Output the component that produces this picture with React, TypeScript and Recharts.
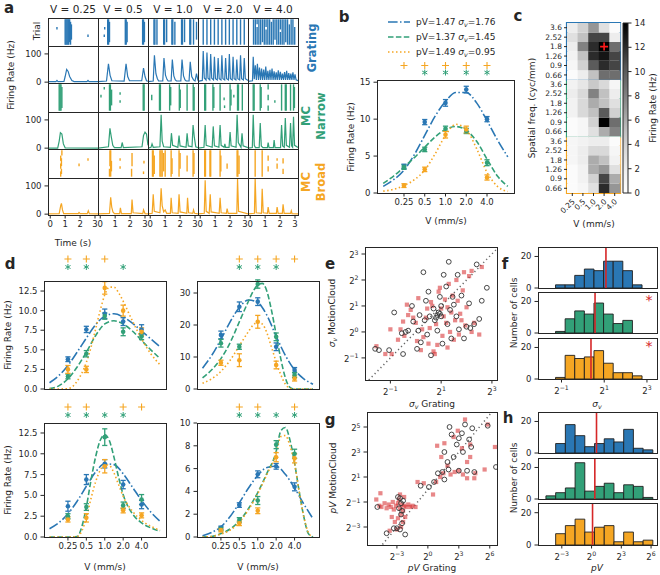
import React from 'react';
import {
  ComposedChart, BarChart, Bar, Cell, Line, Scatter, XAxis, YAxis, ErrorBar,
  ReferenceArea, ReferenceLine, ReferenceDot,
} from 'recharts';

const FONT = '"DejaVu Sans", Verdana, sans-serif';
const INK = '#262626';
const BLUE = '#2a77b4';
const GREEN = '#32a078';
const ORANGE = '#f5a623';
const RED = '#d62728';

// ---------------- panel a data ----------------
const aSpeedLabels = ['0.25', '0.5', '1.0', '2.0', '4.0'];
const aTimeTicks = [0, 1, 2, 3];
const aRateTicks = [0, 100];
// raster bands: [time (s), first trial, last trial]
const rasterGrating = [
  [[0.45, 6, 7], [1.0, 0, 10], [1.06, 0, 10], [1.12, 0, 10], [1.18, 0, 10], [1.24, 0, 10], [1.3, 1, 10], [1.36, 0, 9], [1.42, 2, 8], [2.53, 3, 4]],
  [[0.27, 3, 4], [0.3, 6, 7], [0.5, 0, 10], [0.56, 0, 10], [0.62, 1, 9], [1.68, 0, 10], [1.74, 0, 10], [1.8, 1, 9], [2.84, 0, 10], [2.9, 0, 10], [2.96, 1, 9]],
  [[0.25, 0, 10], [0.31, 0, 10], [0.45, 0, 10], [0.9, 0, 10], [0.96, 0, 10], [1.1, 1, 10], [1.45, 0, 10], [1.51, 0, 10], [1.65, 0, 9], [2.1, 0, 10], [2.16, 0, 10], [2.3, 1, 10], [2.65, 0, 10], [2.71, 0, 10], [2.9, 0, 10], [3.1, 2, 9]],
  [[0.2, 0, 10], [0.45, 0, 10], [0.7, 0, 10], [0.95, 0, 10], [1.2, 0, 10], [1.45, 0, 10], [1.7, 0, 10], [1.95, 0, 10], [2.2, 0, 10], [2.45, 0, 10], [2.7, 0, 10], [2.95, 0, 10]],
  [[0.22, 0, 10], [0.34, 0, 10], [0.46, 0, 7], [0.46, 8, 10], [0.58, 0, 10], [0.7, 0, 10], [0.82, 1, 10], [0.94, 0, 10], [1.06, 0, 6], [1.06, 7, 10], [1.18, 0, 10], [1.3, 0, 10], [1.42, 0, 9], [1.54, 0, 10], [1.66, 2, 10], [1.78, 0, 10], [1.9, 0, 10], [2.02, 0, 5], [2.02, 6, 10], [2.14, 0, 10], [2.26, 0, 10], [2.38, 1, 10], [2.5, 0, 10], [2.62, 0, 8], [2.74, 0, 10], [2.86, 0, 10], [2.98, 0, 7]],
];
const rasterNarrow = [
  [[0.6, 0, 10], [0.66, 0, 10], [0.72, 0, 10], [0.78, 1, 9]],
  [[0.05, 5, 6], [0.27, 8, 9], [0.62, 0, 10], [0.68, 0, 10], [0.76, 2, 8], [1.33, 3, 4], [1.33, 6, 7], [2.88, 0, 10], [2.94, 0, 10]],
  [[0.1, 4, 6], [0.62, 0, 10], [0.68, 0, 10], [1.3, 0, 10], [1.37, 2, 9], [1.95, 0, 10], [2.01, 1, 8], [2.47, 0, 10], [2.88, 0, 10], [2.94, 0, 9]],
  [[0.3, 0, 10], [0.36, 0, 10], [0.85, 0, 10], [0.91, 1, 9], [1.33, 0, 10], [1.6, 4, 5], [1.63, 1, 2], [2.0, 0, 10], [2.06, 2, 8], [2.25, 5, 6], [2.5, 0, 10], [2.56, 0, 10], [2.82, 0, 10]],
  [[0.2, 0, 10], [0.26, 0, 10], [0.67, 0, 10], [0.73, 1, 9], [1.2, 0, 2], [1.2, 4, 6], [1.2, 8, 10], [1.65, 3, 4], [2.1, 0, 10], [2.35, 0, 10], [2.41, 0, 10], [2.7, 0, 10], [2.9, 0, 10], [2.96, 1, 9]],
];
const rasterBroad = [
  [[0.7, 0, 2], [0.7, 3, 5], [0.7, 6, 8], [0.75, 1, 3], [0.75, 4, 7], [0.78, 8, 10], [1.93, 4, 5], [2.53, 6, 7]],
  [[0.62, 0, 3], [0.65, 4, 10], [0.7, 0, 10], [0.75, 2, 6], [1.33, 3, 4], [1.33, 6, 7], [2.1, 0, 3], [2.13, 4, 9], [2.9, 1, 2], [2.93, 5, 6]],
  [[0.15, 0, 10], [0.2, 0, 10], [0.27, 1, 8], [0.65, 0, 10], [0.72, 0, 10], [0.8, 0, 10], [0.9, 2, 9], [1.0, 0, 10], [1.4, 0, 10], [1.46, 1, 7], [1.93, 0, 10], [2.0, 3, 9], [2.47, 2, 8], [2.87, 0, 10], [2.93, 1, 9]],
  [[0.3, 0, 10], [0.35, 0, 10], [0.65, 0, 10], [0.7, 0, 10], [1.33, 0, 10], [1.38, 2, 8], [1.8, 3, 5], [2.47, 0, 10], [2.52, 0, 10], [2.6, 1, 8]],
  [[0.33, 0, 10], [0.8, 0, 10], [1.2, 2, 4], [1.2, 6, 8], [1.8, 3, 5], [1.8, 6, 7], [2.2, 1, 3], [2.2, 5, 7]],
];
// PSTH: [time (s), rate (Hz)]
const psthGrating = [
  [[-0.15, 2], [0.38, 2], [0.45, 6], [0.52, 2], [0.92, 3], [1.0, 20], [1.1, 45], [1.2, 38], [1.3, 20], [1.45, 6], [1.6, 2], [2.46, 2], [2.53, 6], [2.6, 2], [3.2, 2]],
  [[-0.15, 2], [0.42, 4], [0.55, 65], [0.66, 24], [0.78, 5], [1.6, 4], [1.73, 65], [1.84, 20], [1.96, 5], [2.78, 5], [2.9, 50], [3.0, 20], [3.1, 5], [3.2, 3]],
  [[-0.15, 2], [0.2, 4], [0.28, 95], [0.38, 30], [0.48, 12], [0.56, 4], [0.84, 4], [0.92, 85], [1.02, 25], [1.12, 10], [1.2, 4], [1.4, 4], [1.48, 80], [1.58, 22], [1.68, 8], [1.76, 4], [2.05, 4], [2.13, 80], [2.23, 22], [2.33, 8], [2.41, 4], [2.6, 4], [2.68, 72], [2.78, 20], [2.9, 8], [3.0, 4], [3.1, 30], [3.2, 5]],
  [[-0.15, 3], [0.14, 6], [0.2, 110], [0.27, 15], [0.39, 8], [0.45, 105], [0.52, 14], [0.64, 8], [0.7, 100], [0.77, 14], [0.89, 8], [0.95, 90], [1.02, 12], [1.14, 8], [1.2, 85], [1.27, 12], [1.39, 8], [1.45, 95], [1.52, 12], [1.64, 8], [1.7, 85], [1.77, 12], [1.89, 8], [1.95, 100], [2.02, 12], [2.14, 8], [2.2, 90], [2.27, 12], [2.39, 8], [2.45, 80], [2.52, 12], [2.64, 8], [2.7, 95], [2.77, 12], [2.89, 8], [2.95, 85], [3.02, 12], [3.2, 6]],
  [[-0.15, 3], [0.15, 5], [0.2, 90], [0.27, 10], [0.34, 60], [0.41, 8], [0.48, 65], [0.55, 8], [0.62, 52], [0.69, 8], [0.76, 48], [0.83, 8], [0.9, 45], [0.97, 8], [1.04, 55], [1.11, 8], [1.18, 40], [1.25, 8], [1.32, 44], [1.39, 8], [1.46, 48], [1.53, 8], [1.6, 38], [1.67, 8], [1.74, 35], [1.81, 8], [1.88, 42], [1.95, 8], [2.02, 37], [2.09, 8], [2.16, 30], [2.23, 8], [2.3, 36], [2.37, 8], [2.44, 40], [2.51, 8], [2.58, 32], [2.65, 8], [2.72, 30], [2.79, 8], [2.86, 35], [2.93, 8], [3.0, 28], [3.07, 8], [3.2, 5]],
];
const psthNarrow = [
  [[-0.15, 0], [0.5, 0], [0.6, 25], [0.68, 55], [0.78, 50], [0.88, 15], [1.0, 1], [3.2, 0]],
  [[-0.15, 0], [0.55, 5], [0.65, 70], [0.74, 40], [0.84, 10], [0.95, 2], [1.4, 2], [1.47, 20], [1.55, 2], [2.8, 5], [2.9, 45], [3.0, 57], [3.1, 50], [3.2, 10]],
  [[-0.15, 0], [0.05, 3], [0.12, 15], [0.2, 3], [0.65, 5], [0.73, 118], [0.8, 25], [0.9, 5], [1.35, 3], [1.42, 53], [1.5, 10], [1.85, 3], [1.93, 45], [2.0, 8], [2.4, 3], [2.47, 53], [2.55, 8], [2.8, 5], [2.87, 82], [2.95, 40], [3.05, 5], [3.2, 2]],
  [[-0.15, 0], [0.25, 3], [0.33, 82], [0.4, 10], [0.8, 3], [0.87, 77], [0.95, 8], [1.25, 3], [1.33, 82], [1.4, 10], [1.6, 3], [1.65, 15], [1.7, 3], [1.93, 3], [2.0, 57], [2.07, 8], [2.4, 3], [2.47, 118], [2.55, 20], [2.73, 3], [2.8, 53], [2.87, 8], [3.2, 2]],
  [[-0.15, 0], [0.14, 2], [0.2, 118], [0.27, 10], [0.35, 2], [0.6, 2], [0.67, 89], [0.74, 8], [0.85, 2], [1.15, 2], [1.2, 20], [1.26, 2], [1.55, 2], [1.6, 29], [1.66, 2], [2.03, 2], [2.1, 82], [2.17, 8], [2.28, 3], [2.35, 107], [2.42, 10], [2.63, 3], [2.7, 89], [2.77, 8], [2.84, 3], [2.9, 111], [2.97, 10], [3.2, 2]],
];
const psthBroad = [
  [[-0.15, 1], [0.6, 2], [0.7, 30], [0.75, 38], [0.82, 15], [0.9, 2], [1.88, 2], [1.93, 6], [2.0, 2], [2.48, 2], [2.55, 12], [2.62, 2], [3.2, 1]],
  [[-0.15, 1], [0.62, 3], [0.7, 60], [0.77, 25], [0.85, 8], [0.95, 2], [1.3, 2], [1.35, 22], [1.42, 2], [2.08, 2], [2.13, 52], [2.2, 5], [2.85, 2], [2.9, 15], [3.0, 2], [3.2, 1]],
  [[-0.15, 1], [0.13, 3], [0.2, 70], [0.27, 10], [0.65, 5], [0.73, 92], [0.8, 30], [0.9, 8], [1.0, 15], [1.1, 3], [1.35, 3], [1.4, 58], [1.47, 5], [1.87, 3], [1.93, 70], [2.0, 8], [2.45, 3], [2.5, 58], [2.57, 5], [2.85, 3], [2.9, 15], [2.97, 3], [3.2, 1]],
  [[-0.15, 1], [0.27, 3], [0.33, 120], [0.4, 10], [0.6, 3], [0.67, 70], [0.73, 8], [1.27, 3], [1.33, 58], [1.4, 5], [1.75, 3], [1.8, 20], [1.87, 3], [2.45, 3], [2.5, 125], [2.57, 10], [3.2, 1]],
  [[-0.15, 1], [0.28, 3], [0.33, 130], [0.4, 5], [0.75, 3], [0.8, 90], [0.87, 5], [1.15, 3], [1.2, 25], [1.27, 3], [1.75, 3], [1.8, 25], [1.87, 3], [2.15, 3], [2.2, 35], [2.27, 3], [2.7, 3], [2.75, 12], [2.8, 2], [3.2, 1]],
];

// ---------------- panel b / d data ----------------
const speedsV = [0.25, 0.5, 1, 2, 4];
const speedTickLabels = ['0.25', '0.5', '1.0', '2.0', '4.0'];
const bBlue = [3.6, 9.6, 12.2, 14.0, 10.0];
const bBlueErr = [0.3, 0.35, 0.45, 0.45, 0.35];
const bGreen = [3.5, 5.9, 8.7, 8.4, 4.1];
const bGreenErr = [0.3, 0.3, 0.35, 0.35, 0.4];
const bOrange = [1.0, 3.2, 7.9, 8.6, 2.1];
const bOrangeErr = [0.25, 0.3, 0.45, 0.45, 0.35];
// fitted curves: [log2 V, rate]
const bFitBlue = [[-3, 0.9], [-2.5, 1.8], [-2, 3.1], [-1.5, 5.2], [-1, 7.8], [-0.5, 10.4], [0, 12.4], [0.5, 13.6], [1, 13.6], [1.5, 12.2], [2, 9.8], [2.5, 7.2], [3, 4.9]];
const bFitGreen = [[-3, 1.3], [-2.5, 2.3], [-2, 3.5], [-1.5, 4.8], [-1, 6.2], [-0.5, 7.6], [0, 8.6], [0.5, 9.0], [1, 8.5], [1.5, 7.0], [2, 4.6], [2.5, 2.3], [3, 0.9]];
const bFitOrange = [[-3, 0.25], [-2.5, 0.5], [-2, 1.0], [-1.5, 1.8], [-1, 3.1], [-0.5, 5.3], [0, 7.8], [0.5, 9.3], [1, 8.6], [1.5, 6.0], [2, 2.8], [2.5, 0.9], [3, 0.2]];
const bSigPlus = [0.25, 0.5, 1, 2, 4];
const bSigStar = [0.5, 1, 2, 4];

const dTLBlue = [3.8, 7.6, 9.6, 8.6, 7.6];
const dTLBlueErr = [0.3, 0.4, 0.6, 0.5, 0.6];
const dTLGreen = [1.6, 4.5, 9.3, 7.3, 6.7];
const dTLGreenErr = [0.3, 0.4, 0.4, 0.5, 0.4];
const dTLOrange = [2.5, 2.5, 12.9, 10.0, 7.3];
const dTLOrangeErr = [0.5, 0.4, 0.8, 0.7, 0.5];
const dTLFitBlue = [[-3, 0.8], [-2.5, 1.7], [-2, 3.0], [-1.5, 4.7], [-1, 6.5], [-0.5, 8.2], [0, 9.3], [0.5, 9.6], [1, 9.2], [1.5, 8.4], [2, 7.4], [2.5, 6.4], [3, 5.4]];
const dTLFitGreen = [[-3, 0.05], [-2.5, 0.4], [-2, 1.3], [-1.5, 2.8], [-1, 4.7], [-0.5, 6.8], [0, 8.3], [0.5, 8.7], [1, 8.3], [1.5, 7.4], [2, 6.2], [2.5, 5.0], [3, 3.9]];
const dTLFitOrange = [[-3, 0], [-2.5, 0], [-2, 0.05], [-1.75, 0.3], [-1.5, 1.0], [-1.25, 2.0], [-1, 3.4], [-0.75, 5.3], [-0.5, 7.6], [-0.25, 10.0], [0, 12.0], [0.25, 13.0], [0.5, 13.0], [0.75, 12.3], [1, 11.2], [1.5, 8.7], [2, 6.4], [2.5, 4.5], [3, 3.1]];
const dTLPlus = [0.25, 0.5, 1];
const dTLStar = [0.25, 0.5, 2];

const dTRBlue = [16.9, 25.7, 27.3, 13.2, 5.9];
const dTRBlueErr = [1.2, 1.5, 1.2, 1.2, 0.8];
const dTRGreen = [14.3, 13.2, 32.8, 16.3, 4.4];
const dTRGreenErr = [1.2, 0.8, 1.3, 1.2, 0.8];
const dTROrange = [8.2, 9.0, 21.0, 7.5, 3.3];
const dTROrangeErr = [0.8, 2.0, 2.0, 1.2, 0.8];
const dTRFitBlue = [[-3, 6.5], [-2.5, 10.5], [-2, 15.5], [-1.5, 21], [-1, 25.5], [-0.5, 27.8], [0, 27], [0.5, 23], [1, 16.5], [1.5, 10.5], [2, 6], [2.5, 3.2], [3, 1.5]];
const dTRFitGreen = [[-3, 3.5], [-2.5, 6], [-2, 9.5], [-1.5, 14.5], [-1, 21], [-0.5, 27.5], [-0.25, 30.5], [0, 32.5], [0.25, 33], [0.5, 30.5], [0.75, 24.5], [1, 17], [1.25, 9.5], [1.5, 3.5], [1.75, 0.5], [2, 0], [2.5, 0], [3, 0]];
const dTRFitOrange = [[-3, 1.8], [-2.5, 3.2], [-2, 5.5], [-1.5, 9], [-1, 13.5], [-0.5, 18], [-0.25, 20], [0, 20.8], [0.25, 20.3], [0.5, 17.5], [0.75, 13], [1, 8.5], [1.25, 4.5], [1.5, 1.5], [1.75, 0.2], [2, 0], [3, 0]];
const dTRPlus = [0.5, 1, 2, 4];
const dTRStar = [0.5, 1, 2];

const dBLBlue = [3.7, 6.9, 8.8, 6.3, 3.9];
const dBLBlueErr = [0.6, 0.6, 0.5, 0.5, 0.5];
const dBLGreen = [2.5, 3.6, 12.0, 3.8, 4.5];
const dBLGreenErr = [0.3, 0.4, 1.0, 0.4, 0.6];
const dBLOrange = [2.1, 2.3, 8.5, 3.2, 2.6];
const dBLOrangeErr = [0.3, 0.5, 0.8, 0.3, 0.3];
const dBLFitBlue = [[-3, 1.0], [-2.5, 1.7], [-2, 2.8], [-1.5, 4.3], [-1, 6.1], [-0.5, 7.8], [0, 8.8], [0.5, 8.7], [1, 7.6], [1.5, 6.0], [2, 4.4], [2.5, 3.0], [3, 1.9]];
const dBLFitGreen = [[-3, 0], [-2, 0], [-1.5, 0.05], [-1.25, 1.2], [-1, 3.6], [-0.75, 6.8], [-0.5, 9.6], [-0.25, 11.6], [0, 12.3], [0.25, 11.6], [0.5, 9.6], [0.75, 7.2], [1, 5.1], [1.5, 2.8], [2, 1.7], [2.5, 1.1], [3, 0.7]];
const dBLFitOrange = [[-3, 0], [-2, 0], [-1.5, 0.05], [-1.25, 0.7], [-1, 2.3], [-0.75, 4.6], [-0.5, 6.6], [-0.25, 8.0], [0, 8.7], [0.25, 8.6], [0.5, 7.7], [0.75, 6.3], [1, 4.9], [1.5, 3.1], [2, 2.0], [2.5, 1.3], [3, 0.8]];
const dBLPlus = [0.25, 0.5, 2, 4];
const dBLStar = [0.25, 0.5, 1, 2];

const dBRBlue = [0.8, 2.8, 5.5, 6.2, 4.4];
const dBRBlueErr = [0.15, 0.2, 0.3, 0.25, 0.35];
const dBRGreen = [0.7, 1.5, 3.2, 8.1, 7.3];
const dBRGreenErr = [0.15, 0.2, 0.35, 0.35, 0.4];
const dBROrange = [0.6, 1.2, 2.3, 7.0, 6.9];
const dBROrangeErr = [0.15, 0.2, 0.25, 0.4, 0.4];
const dBRFitBlue = [[-3, 0.1], [-2.5, 0.4], [-2, 0.9], [-1.5, 1.8], [-1, 3.0], [-0.5, 4.3], [0, 5.4], [0.5, 6.1], [1, 6.2], [1.5, 5.5], [2, 4.3], [2.5, 2.9], [3, 1.6]];
const dBRFitGreen = [[-3, 0], [-2.5, 0.05], [-2, 0.3], [-1.5, 0.7], [-1, 1.4], [-0.5, 2.5], [0, 3.9], [0.5, 5.6], [1, 7.5], [1.25, 9.3], [1.5, 9.6], [1.75, 8.5], [2, 6.5], [2.25, 4.0], [2.5, 1.8], [2.75, 0.3], [3, 0]];
const dBRFitOrange = [[-3, 0], [-2.5, 0.05], [-2, 0.25], [-1.5, 0.6], [-1, 1.3], [-0.5, 2.4], [0, 3.8], [0.5, 5.5], [1, 7.3], [1.25, 8.8], [1.5, 8.9], [1.75, 8.0], [2, 6.4], [2.25, 4.0], [2.5, 1.8], [2.75, 0.4], [3, 0]];
const dBRPlus = [0.5, 1, 4];
const dBRStar = [0.5, 1, 2, 4];

// ---------------- panel c data ----------------
const cSpeedLabels = ['0.25', '0.5', '1.0', '2.0', '4.0'];
const sfLabels = ['3.6', '2.52', '1.8', '1.26', '0.9', '0.66'];
const heatGrating = [[2, 4, 7, 3, 0.5], [3, 5, 11, 11, 2], [2, 8, 12, 14, 9], [1.5, 5, 12, 13, 11], [1, 4, 10, 12, 11], [0.5, 2, 5, 9, 9]];
const heatNarrow = [[1.5, 2.5, 4.5, 3.5, 1], [2, 3.5, 8, 5, 2], [1.5, 3.5, 6, 5, 3], [1.5, 3.5, 5, 10, 4], [0.5, 1, 4, 14, 9], [0.5, 1, 3, 6, 8]];
const heatBroad = [[1, 1.5, 2, 2, 0.5], [1, 2, 3.5, 3.5, 1], [1, 2, 6, 5, 1.5], [0.5, 1.5, 6, 7, 3], [0.5, 1.5, 4, 11, 6], [0.5, 1, 3, 12, 7]];
const colorbarTicks = [0, 2, 4, 6, 8, 10, 12, 14];
const colorbarRange = [0, 14];

// ---------------- panel e / g data (log2 units) ----------------
const eRed = [[-1.55, -0.55], [-1.2, -0.85], [-0.95, -0.85], [-0.7, -0.3], [-0.6, 0.1], [-0.45, -0.15], [-0.5, 0.4], [-0.3, 0.65], [-0.35, 1.05], [-0.2, 0.85], [-0.1, 0.55], [0.0, 0.35], [0.1, 1.3], [0.05, -0.35], [0.2, -0.7], [0.3, -0.2], [0.25, 0.1], [0.4, 0.55], [0.5, -0.45], [0.55, 0.15], [0.6, 1.15], [0.7, -0.75], [0.75, -0.85], [0.8, 0.3], [0.85, -0.5], [0.9, 1.55], [0.95, 1.7], [1.0, 0.9], [1.05, -0.15], [1.1, 0.6], [1.15, 1.25], [1.2, 0.35], [1.25, -0.6], [1.3, 1.85], [1.35, 0.0], [1.4, 0.75], [1.45, 1.4], [1.5, -0.3], [1.55, 0.45], [1.6, 2.0], [1.65, 1.2], [1.7, -0.1], [1.75, 0.7], [1.8, 0.45], [1.85, 1.6], [1.9, 2.3], [1.95, 0.25], [2.0, 0.95], [2.1, 2.15], [2.2, 0.0], [2.3, 0.35], [2.5, -0.1], [2.6, 2.5], [2.2, 2.35], [-1.0, 0.1], [0.45, 0.9], [1.25, 0.95], [0.65, 1.0]];
const eBlack = [[-1.6, -0.65], [-1.45, -0.7], [-1.05, -0.7], [-0.85, 0.75], [-0.55, -0.05], [-0.5, -0.85], [-0.4, 0.0], [-0.3, 0.05], [-0.15, 1.0], [-0.1, 0.4], [0.05, -0.65], [0.1, 0.05], [0.15, 0.65], [0.2, -0.4], [0.3, 2.3], [0.35, 0.45], [0.4, 1.2], [0.45, -0.1], [0.5, 1.55], [0.55, 0.6], [0.6, -0.9], [0.7, 0.9], [0.75, 0.45], [0.8, 0.55], [0.85, 0.05], [0.9, 0.75], [0.95, 1.35], [1.0, 0.6], [1.05, -0.45], [1.1, 2.2], [1.2, 1.75], [1.25, 0.3], [1.3, 2.7], [1.35, 0.85], [1.4, -0.25], [1.45, 1.35], [1.5, 1.05], [1.6, 0.6], [1.65, 2.2], [1.7, 0.1], [1.8, 1.4], [1.9, -0.25], [2.0, 0.2], [2.1, 1.1], [2.15, 0.15], [2.3, 0.3], [2.4, 2.6], [2.5, 0.5], [2.6, 1.2], [2.8, 1.7], [1.0, 1.0], [0.85, 0.65], [0.95, 0.7]];
const eDiag = [-1.85, 3.2];
const gRed = [[-5.0, -0.8], [-4.7, -1.3], [-4.5, -1.4], [-4.2, -1.1], [-4.0, -1.5], [-3.8, -1.2], [-3.6, -1.4], [-3.4, -1.0], [-3.3, -1.6], [-3.1, -1.3], [-2.9, -1.1], [-2.8, -0.8], [-2.7, -1.5], [-2.5, -1.2], [-2.4, -1.7], [-2.3, -1.3], [-2.1, -1.4], [-1.9, -1.2], [-1.7, -1.4], [-1.5, -1.3], [-1.2, -1.4], [-3.5, -2.2], [-3.2, -2.6], [-2.9, -2.3], [-2.6, -2.0], [-2.4, -2.6], [-2.2, -2.2], [-3.0, -3.2], [-3.7, -3.3], [-2.6, -3.0], [-2.7, -0.4], [-2.3, -0.6], [-4.6, -0.3], [-1.0, 0.6], [-0.4, 0.5], [0.5, -0.4], [0.8, 0.6], [1.2, 1.0], [1.5, 1.3], [1.9, 1.9], [2.2, 1.2], [2.6, 1.4], [3.0, 1.5], [3.4, 1.2], [3.8, 0.9], [4.1, 2.6], [4.5, 0.9], [4.6, 1.3], [5.5, 1.6], [1.6, 3.7], [2.5, 4.2], [3.3, 3.3], [4.1, 3.6], [3.6, 5.6], [5.8, 5.2], [6.5, 3.4], [2.9, 4.7], [0.9, 3.5], [1.3, 2.6], [3.8, 2.2]];
const gBlack = [[-4.9, -1.4], [-4.0, -3.5], [-2.7, -0.7], [-2.2, -3.6], [-2.6, -1.1], [-2.6, -2.0], [-3.0, -3.1], [-2.8, -1.5], [-2.5, -2.7], [-2.7, -3.2], [-3.3, -3.1], [-2.4, -0.9], [-2.9, -0.6], [-2.5, -1.7], [-0.7, 0.3], [0.1, 0.2], [0.6, 0.6], [0.97, 1.3], [1.6, 0.8], [1.4, 1.4], [2.1, 5.0], [3.0, 4.1], [3.6, 5.2], [4.3, 4.9], [5.8, 5.1], [1.6, 3.0], [2.5, 2.6], [3.8, 1.5], [4.5, 1.4], [6.6, 1.8], [2.3, 4.4], [3.3, 4.5], [4.0, 4.0], [2.8, 3.6], [3.4, 3.0], [1.9, 2.2], [4.2, 3.4], [3.0, 1.5], [2.0, 1.6]];
const gDiag = [-4.4, 6.2];

// ---------------- panel f / h data ----------------
const fEdges = [-1.28, -0.83, -0.38, 0.07, 0.52, 0.97, 1.42, 1.87, 2.32, 2.77];
const fGrating = [2, 2, 8, 12, 11, 17, 17, 11, 2];
const fNarrow = [1, 9, 14, 12, 19, 12, 6, 8, 0];
const fBroad = [1, 15, 13, 14, 18, 10, 4, 4, 2];
const fMedians = [1.08, 0.57, 0.38];
const hEdges = [-4.6, -3.62, -2.64, -1.66, -0.68, 0.3, 1.28, 2.26, 3.24, 4.22, 5.2, 6.18];
const hGrating = [0, 6, 18, 11, 4, 6, 9, 7, 15, 3, 2];
const hNarrow = [2, 4, 7, 23, 5, 8, 10, 4, 9, 8, 1];
const hBroad = [0, 7, 12, 16, 8, 11, 12, 2, 8, 2, 3];
const hMedians = [0.5, 0.33, 0.1];

// ---------------- helpers ----------------
const tickStyle = { fontSize: 8.5, fill: INK, fontFamily: FONT };
const lineStyle = { stroke: INK, strokeWidth: 1 };
const DASH_DOT = '9.6 2.4 1.5 2.4';
const DASHED = '5.5 2.4';
const DOTTED = '1.5 2.5';

function Txt({ x, y, size = 9, rot = 0, anchor = 'middle', bold = false, color = INK, children, lh = 1.15 }: any) {
  const tx = anchor === 'middle' ? '-50%' : anchor === 'end' ? '-100%' : '0%';
  return (
    <div style={{
      position: 'absolute', left: x, top: y, transform: `translate(${tx}, -50%) rotate(${rot}deg)`,
      fontSize: size, fontWeight: bold ? 700 : 400, color, whiteSpace: 'nowrap', lineHeight: lh,
      textAlign: 'center', fontFamily: FONT,
    }}>{children}</div>
  );
}

const Sv = () => (
  <span><i>σ</i><span style={{ fontSize: '0.7em', position: 'relative', top: '0.3em' }}><i>v</i></span></span>
);

function Plot({ x, y, w, h, left = 0, bottom = 0, children, frame = true }: any) {
  const W = w + left;
  const H = h + bottom;
  return (
    <>
      <div style={{ position: 'absolute', left: x - left, top: y, width: W, height: H }}>
        <ComposedChart width={W} height={H} margin={{ top: 0, right: 0, bottom: 0, left: 0 }}>
          {children}
        </ComposedChart>
      </div>
      {frame && (
        <div style={{
          position: 'absolute', left: x, top: y, width: w + 1, height: h + 1,
          border: `1px solid ${INK}`, boxSizing: 'border-box', pointerEvents: 'none',
        }} />
      )}
    </>
  );
}

const supText = (n: number) => (n < 0 ? '−' + Math.abs(n) : String(n));
function PowTickX(props: any) {
  const { x, y, payload } = props;
  return (
    <text x={x} y={y + 9} textAnchor="middle" fontSize={8.5} fill={INK} fontFamily={FONT}>
      2<tspan dy={-3.5} fontSize={6.2}>{supText(payload.value)}</tspan>
    </text>
  );
}
function PowTickY(props: any) {
  const { x, y, payload } = props;
  return (
    <text x={x} y={y + 4} textAnchor="end" fontSize={8.5} fill={INK} fontFamily={FONT}>
      2<tspan dy={-3.5} fontSize={6.2}>{supText(payload.value)}</tspan>
    </text>
  );
}

const dotShape = (color: string) => (p: any) => <circle cx={p.cx} cy={p.cy} r={2.3} fill={color} />;
const plusShape = (p: any) => (
  <path d={`M${p.cx - 3.5},${p.cy}H${p.cx + 3.5}M${p.cx},${p.cy - 3.5}V${p.cy + 3.5}`} stroke={ORANGE} strokeWidth={1.1} fill="none" />
);
const starShape = (p: any) => (
  <path d={`M${p.cx},${p.cy - 3}V${p.cy + 3}M${p.cx - 2.6},${p.cy - 1.5}L${p.cx + 2.6},${p.cy + 1.5}M${p.cx - 2.6},${p.cy + 1.5}L${p.cx + 2.6},${p.cy - 1.5}`} stroke={GREEN} strokeWidth={1} fill="none" />
);
const squareShape = (p: any) => <rect x={p.cx - 2.1} y={p.cy - 2.1} width={4.2} height={4.2} fill={RED} fillOpacity={0.55} />;
const ringShape = (p: any) => <circle cx={p.cx} cy={p.cy} r={2.4} fill="none" stroke="#333" strokeWidth={0.9} />;
const emptyShape = () => <g />;

const speedTicks = speedsV.map((v) => Math.log2(v));
const speedFmt = (v: number) => speedTickLabels[speedTicks.indexOf(v)] ?? '';
const V_DOMAIN = [-3.3, 3.3];

const toPts = (ys: number[], es: number[]) => speedsV.map((v, i) => ({ x: Math.log2(v), y: ys[i], e: es[i] }));
const toCurve = (pairs: number[][]) => pairs.map(([x, y]) => ({ x, y }));

// ---------------- panel a ----------------
const aColX = [48, 98, 148, 198, 248];
const A_W = 50;
const A_TDOMAIN = [-0.15, 3.2];

function RasterCell({ x, y, h, bands, color }: any) {
  const data = bands.map(([t, lo, hi]: number[]) => ({ t, y: (lo + hi) / 2, e: (hi - lo) / 2 }));
  return (
    <Plot x={x} y={y} w={A_W} h={h}>
      <XAxis type="number" dataKey="t" domain={A_TDOMAIN} hide allowDataOverflow />
      <YAxis type="number" domain={[-0.5, 10.5]} hide allowDataOverflow />
      <Scatter data={data} dataKey="y" shape={emptyShape} isAnimationActive={false}>
        <ErrorBar dataKey="e" direction="y" width={0} stroke={color} strokeWidth={1.4} />
      </Scatter>
    </Plot>
  );
}

function PsthCell({ x, y, h, pts, color, showY, showX }: any) {
  const data = pts.map(([t, r]: number[]) => ({ t, r }));
  return (
    <Plot x={x} y={y} w={A_W} h={h} left={showY ? 30 : 0} bottom={showX ? 16 : 0}>
      <XAxis type="number" dataKey="t" domain={A_TDOMAIN} allowDataOverflow hide={!showX} height={16}
        ticks={aTimeTicks} tick={tickStyle} tickLine={lineStyle} axisLine={false} tickSize={3.5} tickMargin={2} interval={0} />
      <YAxis type="number" domain={[-3, 128]} allowDataOverflow hide={!showY} width={30}
        ticks={aRateTicks} tick={tickStyle} tickLine={lineStyle} axisLine={false} tickSize={3.5} tickMargin={3} interval={0} />
      <Line data={data} dataKey="r" stroke={color} strokeWidth={1.2} dot={false} type="linear" isAnimationActive={false} />
    </Plot>
  );
}

function PanelA() {
  const rows = [
    { type: 'r', top: 18, h: 28, sets: rasterGrating, color: BLUE },
    { type: 'p', top: 46, h: 37, sets: psthGrating, color: BLUE },
    { type: 'r', top: 83, h: 29, sets: rasterNarrow, color: GREEN },
    { type: 'p', top: 112, h: 37, sets: psthNarrow, color: GREEN },
    { type: 'r', top: 149, h: 29, sets: rasterBroad, color: ORANGE },
    { type: 'p', top: 178, h: 37, sets: psthBroad, color: ORANGE },
  ];
  return (
    <>
      <Txt x={9} y={9} size={15} bold>a</Txt>
      {aSpeedLabels.map((s, i) => (
        <Txt key={s} x={aColX[i] + 25} y={9} size={10.5}>V = {s}</Txt>
      ))}
      {rows.map((row, ri) => row.sets.map((set: any, ci: number) => (
        row.type === 'r'
          ? <RasterCell key={`${ri}-${ci}`} x={aColX[ci]} y={row.top} h={row.h} bands={set} color={row.color} />
          : <PsthCell key={`${ri}-${ci}`} x={aColX[ci]} y={row.top} h={row.h} pts={set} color={row.color} showY={ci === 0} showX={ri === 5} />
      )))}
      <Txt x={37} y={31} size={9} rot={-90}>Trial</Txt>
      <Txt x={11} y={75} size={9} rot={-90}>Firing Rate (Hz)</Txt>
      <Txt x={73} y={243} size={9}>Time (s)</Txt>
      <Txt x={313} y={48} size={11.5} rot={-90} bold color={BLUE}>Grating</Txt>
      <Txt x={314} y={116} size={11.5} rot={-90} bold color={GREEN} lh={1.3}>MC<br />Narrow</Txt>
      <Txt x={314} y={182} size={11.5} rot={-90} bold color={ORANGE} lh={1.3}>MC<br />Broad</Txt>
    </>
  );
}

// ---------------- significance rows ----------------
function SigRow({ x, w, plusY, starY, plus, star }: any) {
  const gap = starY - plusY;
  const H = gap * 2;
  const plusData = plus.map((v: number) => ({ x: Math.log2(v), y: 1 }));
  const starData = star.map((v: number) => ({ x: Math.log2(v), y: 0 }));
  return (
    <div style={{ position: 'absolute', left: x, top: plusY - gap / 2, width: w, height: H }}>
      <ComposedChart width={w} height={H} margin={{ top: 0, right: 0, bottom: 0, left: 0 }}>
        <XAxis type="number" dataKey="x" domain={V_DOMAIN} hide allowDataOverflow />
        <YAxis type="number" domain={[-0.5, 1.5]} hide allowDataOverflow />
        <Scatter data={plusData} dataKey="y" shape={plusShape} isAnimationActive={false} />
        <Scatter data={starData} dataKey="y" shape={starShape} isAnimationActive={false} />
      </ComposedChart>
    </div>
  );
}

// ---------------- tuning-curve plot (b, d) ----------------
function TuningPlot({ x, y, w, h, yDomain, yTicks, yFmt, showXLabels, series }: any) {
  return (
    <Plot x={x} y={y} w={w} h={h} left={30} bottom={16}>
      <XAxis type="number" dataKey="x" domain={V_DOMAIN} allowDataOverflow ticks={speedTicks} tickFormatter={speedFmt}
        tick={showXLabels ? tickStyle : false} tickLine={lineStyle} axisLine={false} tickSize={3.5} tickMargin={2} interval={0} height={16} />
      <YAxis type="number" domain={yDomain} allowDataOverflow ticks={yTicks} tickFormatter={yFmt}
        tick={tickStyle} tickLine={lineStyle} axisLine={false} tickSize={3.5} tickMargin={3} interval={0} width={30} />
      {series.map((s: any) => (
        <Line key={'l' + s.color} data={toCurve(s.fit)} dataKey="y" stroke={s.color} strokeWidth={1.6}
          strokeDasharray={s.dash} dot={false} type="monotone" isAnimationActive={false} />
      ))}
      {series.map((s: any) => (
        <Scatter key={'s' + s.color} data={toPts(s.pts, s.err)} dataKey="y" shape={dotShape(s.color)} isAnimationActive={false}>
          <ErrorBar dataKey="e" direction="y" width={2.6} stroke={s.color} strokeWidth={1.3} />
        </Scatter>
      ))}
    </Plot>
  );
}

function LegendRow({ y, color, dash, pv, sv }: any) {
  return (
    <>
      <svg style={{ position: 'absolute', left: 387, top: y - 3, width: 24, height: 6 }}>
        <line x1={1} y1={3} x2={23} y2={3} stroke={color} strokeWidth={1.6} strokeDasharray={dash} />
      </svg>
      <Txt x={416} y={y} size={9} anchor="start">pV={pv} <Sv />={sv}</Txt>
    </>
  );
}

function PanelB() {
  return (
    <>
      <Txt x={344} y={18} size={15} bold>b</Txt>
      <LegendRow y={22} color={BLUE} dash={DASH_DOT} pv="1.47" sv="1.76" />
      <LegendRow y={37} color={GREEN} dash={DASHED} pv="1.37" sv="1.45" />
      <LegendRow y={52} color={ORANGE} dash={DOTTED} pv="1.49" sv="0.95" />
      <SigRow x={377} w={137} plusY={65} starY={72} plus={bSigPlus} star={bSigStar} />
      <TuningPlot x={377} y={80} w={137} h={113} yDomain={[0, 15.3]} yTicks={[0, 5, 10, 15]} showXLabels
        series={[
          { color: BLUE, dash: DASH_DOT, fit: bFitBlue, pts: bBlue, err: bBlueErr },
          { color: GREEN, dash: DASHED, fit: bFitGreen, pts: bGreen, err: bGreenErr },
          { color: ORANGE, dash: DOTTED, fit: bFitOrange, pts: bOrange, err: bOrangeErr },
        ]} />
      <Txt x={351} y={137} size={9} rot={-90}>Firing Rate (Hz)</Txt>
      <Txt x={446} y={221} size={9}>V (mm/s)</Txt>
    </>
  );
}

// ---------------- panel c ----------------
const greyStops = ['#ffffff', '#f0f0f0', '#d9d9d9', '#bdbdbd', '#969696', '#737373', '#525252', '#252525', '#000000'];
function hexRgb(h: string) {
  return [1, 3, 5].map((i) => parseInt(h.slice(i, i + 2), 16));
}
function greys(v: number) {
  const t = Math.max(0, Math.min(1, v / 14)) * 8;
  const i = Math.min(7, Math.floor(t));
  const f = t - i;
  const a = hexRgb(greyStops[i]);
  const b = hexRgb(greyStops[i + 1]);
  const c = a.map((x, k) => Math.round(x + (b[k] - x) * f));
  return `rgb(${c.join(',')})`;
}

function RotTick(props: any) {
  const { x, y, payload } = props;
  return (
    <text x={x + 3} y={y + 4} transform={`rotate(-45 ${x + 3} ${y + 4})`} textAnchor="end" fontSize={7.5} fill={INK} fontFamily={FONT}>
      {payload.value}
    </text>
  );
}

function PanelC() {
  const rowsBottomUp = [...heatBroad.slice().reverse(), ...heatNarrow.slice().reverse(), ...heatGrating.slice().reverse()];
  const data = cSpeedLabels.map((v) => {
    const o: any = { v };
    rowsBottomUp.forEach((_, ri) => { o['r' + ri] = 1; });
    return o;
  });
  const yTicks = rowsBottomUp.map((_, ri) => ri + 0.5);
  const yFmt = (v: number) => sfLabels[5 - (Math.floor(v) % 6)];
  const HX = 567, HY = 23, HW = 53, HH = 170, LEFT = 40, BOT = 24;
  const groupBoxes = [
    { y1: 0, y2: 6, c: ORANGE },
    { y1: 6, y2: 12, c: GREEN },
    { y1: 12, y2: 18, c: BLUE },
  ];
  const CBX = 623, CBW = 5;
  const cbData = [{ x: 0.5, z: colorbarRange[0] }, { x: 0.5, z: colorbarRange[1] }];
  return (
    <>
      <Txt x={518} y={17} size={15} bold>c</Txt>
      <div style={{ position: 'absolute', left: HX - LEFT, top: HY, width: HW + LEFT, height: HH + BOT }}>
        <BarChart width={HW + LEFT} height={HH + BOT} data={data} margin={{ top: 0, right: 0, bottom: 0, left: 0 }} barCategoryGap={0} barGap={0}>
          <XAxis dataKey="v" type="category" height={BOT} tick={<RotTick />} tickLine={lineStyle} axisLine={false} tickSize={3} interval={0} />
          <YAxis type="number" domain={[0, 18]} ticks={yTicks} tickFormatter={yFmt} width={LEFT} allowDataOverflow
            tick={{ ...tickStyle, fontSize: 7.5 }} tickLine={lineStyle} axisLine={false} tickSize={3} tickMargin={2} interval={0} />
          {rowsBottomUp.map((row, ri) => (
            <Bar key={ri} dataKey={'r' + ri} stackId="heat" isAnimationActive={false}>
              {row.map((val, ci) => <Cell key={ci} fill={greys(val)} />)}
            </Bar>
          ))}
          {groupBoxes.map((g) => (
            <ReferenceArea key={g.c} y1={g.y1} y2={g.y2} fill="none" fillOpacity={0} stroke={g.c} strokeWidth={2.2} ifOverflow="visible" />
          ))}
          <ReferenceDot x="2.0" y={15.5} ifOverflow="visible" shape={(p: any) => (
            <path d={`M${p.cx - 4},${p.cy}H${p.cx + 4}M${p.cx},${p.cy - 4}V${p.cy + 4}`} stroke="#ff1a1a" strokeWidth={1.6} />
          )} />
        </BarChart>
      </div>
      <div style={{ position: 'absolute', left: CBX, top: HY, width: CBW + 22, height: HH }}>
        <ComposedChart width={CBW + 22} height={HH} data={cbData} margin={{ top: 0, right: 0, bottom: 0, left: 0 }}>
          <defs>
            <linearGradient id="cbGrad" x1="0" y1="1" x2="0" y2="0">
              {greyStops.map((c, i) => <stop key={i} offset={`${(i / 8) * 100}%`} stopColor={c} />)}
            </linearGradient>
          </defs>
          <XAxis type="number" dataKey="x" domain={[0, 1]} hide allowDataOverflow />
          <YAxis type="number" orientation="right" domain={colorbarRange} ticks={colorbarTicks} width={22} allowDataOverflow
            tick={tickStyle} tickLine={lineStyle} axisLine={false} tickSize={3.5} tickMargin={3} interval={0} />
          <Scatter dataKey="z" shape={emptyShape} isAnimationActive={false} />
          <ReferenceArea x1={0} x2={1} y1={colorbarRange[0]} y2={colorbarRange[1]} fill="url(#cbGrad)" fillOpacity={1} stroke={INK} strokeWidth={1} ifOverflow="visible" />
        </ComposedChart>
      </div>
      <Txt x={532} y={108} size={9} rot={-90}>Spatial freq. (cyc/mm)</Txt>
      <Txt x={653} y={108} size={9} rot={-90}>Firing Rate (Hz)</Txt>
      <Txt x={594} y={224} size={9}>V (mm/s)</Txt>
    </>
  );
}

// ---------------- panel d ----------------
function PanelD() {
  const fmt1 = (v: number) => v.toFixed(1);
  const L = 44, R = 197, W = 121.5;
  return (
    <>
      <Txt x={10} y={265} size={15} bold>d</Txt>
      <SigRow x={L} w={W} plusY={259} starY={267} plus={dTLPlus} star={dTLStar} />
      <SigRow x={R} w={W} plusY={259} starY={267} plus={dTRPlus} star={dTRStar} />
      <SigRow x={L} w={W} plusY={407} starY={415} plus={dBLPlus} star={dBLStar} />
      <SigRow x={R} w={W} plusY={407} starY={415} plus={dBRPlus} star={dBRStar} />
      <TuningPlot x={L} y={281} w={W} h={108} yDomain={[0, 13.78]} yTicks={[0, 2.5, 5, 7.5, 10, 12.5]} yFmt={fmt1}
        series={[
          { color: BLUE, dash: DASH_DOT, fit: dTLFitBlue, pts: dTLBlue, err: dTLBlueErr },
          { color: GREEN, dash: DASHED, fit: dTLFitGreen, pts: dTLGreen, err: dTLGreenErr },
          { color: ORANGE, dash: DOTTED, fit: dTLFitOrange, pts: dTLOrange, err: dTLOrangeErr },
        ]} />
      <TuningPlot x={R} y={281} w={W} h={108} yDomain={[0, 33.75]} yTicks={[0, 10, 20, 30]}
        series={[
          { color: BLUE, dash: DASH_DOT, fit: dTRFitBlue, pts: dTRBlue, err: dTRBlueErr },
          { color: GREEN, dash: DASHED, fit: dTRFitGreen, pts: dTRGreen, err: dTRGreenErr },
          { color: ORANGE, dash: DOTTED, fit: dTRFitOrange, pts: dTROrange, err: dTROrangeErr },
        ]} />
      <TuningPlot x={L} y={423} w={W} h={114} yDomain={[0, 13.7]} yTicks={[0, 2.5, 5, 7.5, 10, 12.5]} yFmt={fmt1} showXLabels
        series={[
          { color: BLUE, dash: DASH_DOT, fit: dBLFitBlue, pts: dBLBlue, err: dBLBlueErr },
          { color: GREEN, dash: DASHED, fit: dBLFitGreen, pts: dBLGreen, err: dBLGreenErr },
          { color: ORANGE, dash: DOTTED, fit: dBLFitOrange, pts: dBLOrange, err: dBLOrangeErr },
        ]} />
      <TuningPlot x={R} y={423} w={W} h={114} yDomain={[0, 10]} yTicks={[0, 2, 4, 6, 8, 10]} showXLabels
        series={[
          { color: BLUE, dash: DASH_DOT, fit: dBRFitBlue, pts: dBRBlue, err: dBRBlueErr },
          { color: GREEN, dash: DASHED, fit: dBRFitGreen, pts: dBRGreen, err: dBRGreenErr },
          { color: ORANGE, dash: DOTTED, fit: dBRFitOrange, pts: dBROrange, err: dBROrangeErr },
        ]} />
      <Txt x={8} y={335} size={9} rot={-90}>Firing Rate (Hz)</Txt>
      <Txt x={8} y={480} size={9} rot={-90}>Firing Rate (Hz)</Txt>
      <Txt x={105} y={567} size={9}>V (mm/s)</Txt>
      <Txt x={258} y={567} size={9}>V (mm/s)</Txt>
    </>
  );
}

// ---------------- panels e, g ----------------
function ScatterPanel({ x, y, w, h, xDomain, yDomain, xTicks, yTicks, red, black, diag }: any) {
  return (
    <Plot x={x} y={y} w={w} h={h} left={30} bottom={16}>
      <XAxis type="number" dataKey="x" domain={xDomain} allowDataOverflow ticks={xTicks} tick={<PowTickX />}
        tickLine={lineStyle} axisLine={false} tickSize={3.5} interval={0} height={16} />
      <YAxis type="number" dataKey="y" domain={yDomain} allowDataOverflow ticks={yTicks} tick={<PowTickY />}
        tickLine={lineStyle} axisLine={false} tickSize={3.5} tickMargin={3} interval={0} width={30} />
      <ReferenceLine segment={[{ x: diag[0], y: diag[0] }, { x: diag[1], y: diag[1] }]} stroke="#666" strokeWidth={1.5}
        strokeDasharray="1.2 3" ifOverflow="hidden" />
      <Scatter data={red.map(([a, b]: number[]) => ({ x: a, y: b }))} dataKey="y" shape={squareShape} isAnimationActive={false} />
      <Scatter data={black.map(([a, b]: number[]) => ({ x: a, y: b }))} dataKey="y" shape={ringShape} isAnimationActive={false} />
    </Plot>
  );
}

function PanelEG() {
  return (
    <>
      <Txt x={330} y={265} size={15} bold>e</Txt>
      <ScatterPanel x={365} y={247} w={132} h={133} xDomain={[-2, 3.2]} yDomain={[-1.85, 3.27]}
        xTicks={[-1, 1, 3]} yTicks={[-1, 0, 1, 2, 3]} red={eRed} black={eBlack} diag={eDiag} />
      <Txt x={332} y={313} size={9} rot={-90}><Sv /> MotionCloud</Txt>
      <Txt x={432} y={404} size={9}><Sv /> Grating</Txt>
      <Txt x={330} y={421} size={15} bold>g</Txt>
      <ScatterPanel x={367} y={412} w={130} h={133} xDomain={[-5.9, 6.7]} yDomain={[-4.44, 6.2]}
        xTicks={[-3, 0, 3, 6]} yTicks={[-3, -1, 1, 3, 5]} red={gRed} black={gBlack} diag={gDiag} />
      <Txt x={333} y={478} size={9} rot={-90}><i>pV</i> MotionCloud</Txt>
      <Txt x={432} y={568} size={9}><i>pV</i> Grating</Txt>
    </>
  );
}

// ---------------- panels f, h ----------------
function HistPlot({ x, y, w, h, edges, counts, color, median, xDomain, xTicks, showX, star }: any) {
  const data = counts.map((n: number, i: number) => ({ x: (edges[i] + edges[i + 1]) / 2, n }));
  return (
    <>
      <Plot x={x} y={y} w={w} h={h} left={26} bottom={showX ? 16 : 0}>
        <XAxis type="number" dataKey="x" domain={xDomain} allowDataOverflow ticks={xTicks} tick={<PowTickX />}
          tickLine={lineStyle} axisLine={false} tickSize={3.5} interval={0} height={16} hide={!showX} />
        <YAxis type="number" dataKey="n" domain={[0, 26]} allowDataOverflow ticks={[0, 20]} tick={tickStyle}
          tickLine={lineStyle} axisLine={false} tickSize={3.5} tickMargin={3} interval={0} width={26} />
        <Scatter data={data} dataKey="n" shape={emptyShape} isAnimationActive={false} />
        {counts.map((n: number, i: number) => (n > 0 ? (
          <ReferenceArea key={i} x1={edges[i]} x2={edges[i + 1]} y1={0} y2={n} fill={color} fillOpacity={1}
            stroke="#1e1e1e" strokeWidth={0.9} ifOverflow="visible" />
        ) : null))}
        <ReferenceLine x={median} stroke={RED} strokeWidth={1.6} />
      </Plot>
      {star && <Txt x={x + w - 8} y={y + 8} size={14} color={RED}>*</Txt>}
    </>
  );
}

function PanelFH() {
  const X = 538, W = 119;
  return (
    <>
      <Txt x={505} y={265} size={15} bold>f</Txt>
      <HistPlot x={X} y={247} w={W} h={41} edges={fEdges} counts={fGrating} color={BLUE} median={fMedians[0]} xDomain={[-2.1, 3.47]} xTicks={[-1, 1, 3]} />
      <HistPlot x={X} y={292} w={W} h={41} edges={fEdges} counts={fNarrow} color={GREEN} median={fMedians[1]} xDomain={[-2.1, 3.47]} xTicks={[-1, 1, 3]} star />
      <HistPlot x={X} y={338} w={W} h={41} edges={fEdges} counts={fBroad} color={ORANGE} median={fMedians[2]} xDomain={[-2.1, 3.47]} xTicks={[-1, 1, 3]} showX star />
      <Txt x={514} y={313} size={9} rot={-90}>Number of cells</Txt>
      <Txt x={597} y={404} size={9}><Sv /></Txt>
      <Txt x={508} y={419} size={15} bold>h</Txt>
      <HistPlot x={X} y={412} w={W} h={41} edges={hEdges} counts={hGrating} color={BLUE} median={hMedians[0]} xDomain={[-5.4, 6.6]} xTicks={[-3, 0, 3, 6]} />
      <HistPlot x={X} y={458} w={W} h={41} edges={hEdges} counts={hNarrow} color={GREEN} median={hMedians[1]} xDomain={[-5.4, 6.6]} xTicks={[-3, 0, 3, 6]} />
      <HistPlot x={X} y={503} w={W} h={42} edges={hEdges} counts={hBroad} color={ORANGE} median={hMedians[2]} xDomain={[-5.4, 6.6]} xTicks={[-3, 0, 3, 6]} showX />
      <Txt x={514} y={478} size={9} rot={-90}>Number of cells</Txt>
      <Txt x={597} y={568} size={9}><i>pV</i></Txt>
    </>
  );
}

export default function App() {
  return (
    <div style={{ position: 'absolute', left: 0, top: 0, width: 660, height: 575, background: '#fff', fontFamily: FONT, color: INK, overflow: 'hidden' }}>
      <style>{'svg{overflow:visible}'}</style>
      <PanelA />
      <PanelB />
      <PanelC />
      <PanelD />
      <PanelEG />
      <PanelFH />
    </div>
  );
}
